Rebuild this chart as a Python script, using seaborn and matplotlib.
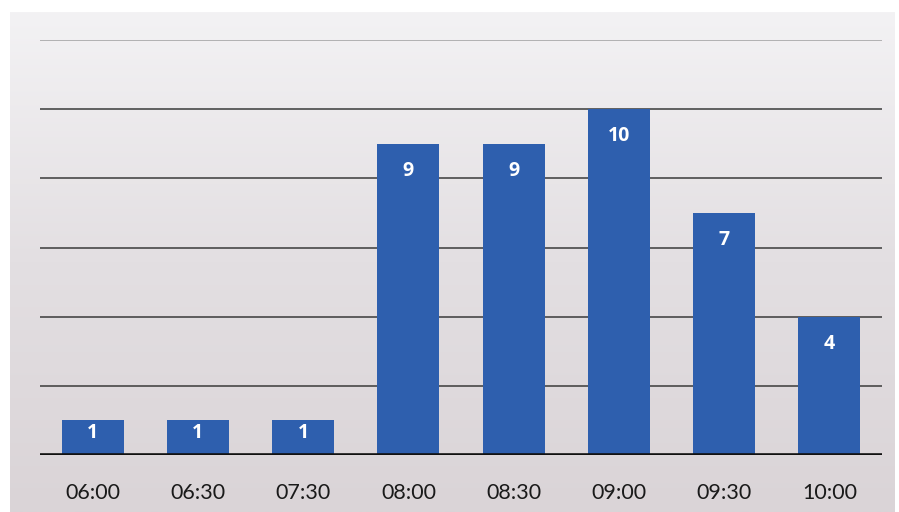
import numpy as np
import pandas as pd
import matplotlib
matplotlib.use("Agg")
import matplotlib.pyplot as plt
import seaborn as sns

times = ["06:00", "06:30", "07:30", "08:00", "08:30", "09:00", "09:30", "10:00"]
counts = [1, 1, 1, 9, 9, 10, 7, 4]
grid_levels = [2, 4, 6, 8, 10, 12]

df = pd.DataFrame({"time": times, "count": counts})

sns.set_theme(style="white")
plt.rcParams["font.family"] = ["Lato", "DejaVu Sans"]

fig = plt.figure(figsize=(8.99, 5.12), dpi=100)
fig.patch.set_facecolor("white")

# gray panel with a soft vertical gradient, lighter at the top
bg = fig.add_axes([10 / 899, 0, 885 / 899, 500 / 512])
grad = np.linspace(0, 1, 256).reshape(-1, 1)
cmap = matplotlib.colors.LinearSegmentedColormap.from_list("bg", ["#f3f2f4", "#e3dfe2", "#dad4d7"])
bg.imshow(grad, aspect="auto", cmap=cmap, extent=[0, 1, 0, 1])
bg.axis("off")

ax = fig.add_axes([40 / 899, (512 - 455) / 512, 842 / 899, 415 / 512])
ax.patch.set_alpha(0)

for g in grid_levels:
    ax.axhline(g, color="#3a3a3a" if g < 12 else "#a0a0a0", lw=1.1, zorder=0)

sns.barplot(data=df, x="time", y="count", color="#2e5fae", saturation=1,
            width=0.59, edgecolor="none", linewidth=0, ax=ax, zorder=2)

# value labels inside the bar ends
for i, v in enumerate(counts):
    off = 0.78 if v > 2 else 0.35
    ax.text(i, v - off, str(v), ha="center", va="center", color="white",
            fontsize=14, fontweight="bold", family=["Open Sans", "DejaVu Sans"],
            zorder=3)

ax.axhline(0, color="#111111", lw=2.6, zorder=4)
ax.set_ylim(0, 12)
ax.set_xlim(-0.5, len(times) - 0.5)
ax.set_yticks([])
ax.set_xlabel("")
ax.set_ylabel("")
ax.tick_params(axis="x", length=0, pad=20, labelsize=15.5, labelcolor="#1a1a1a")
for s in ax.spines.values():
    s.set_visible(False)

fig.savefig("out.png", dpi=100)
